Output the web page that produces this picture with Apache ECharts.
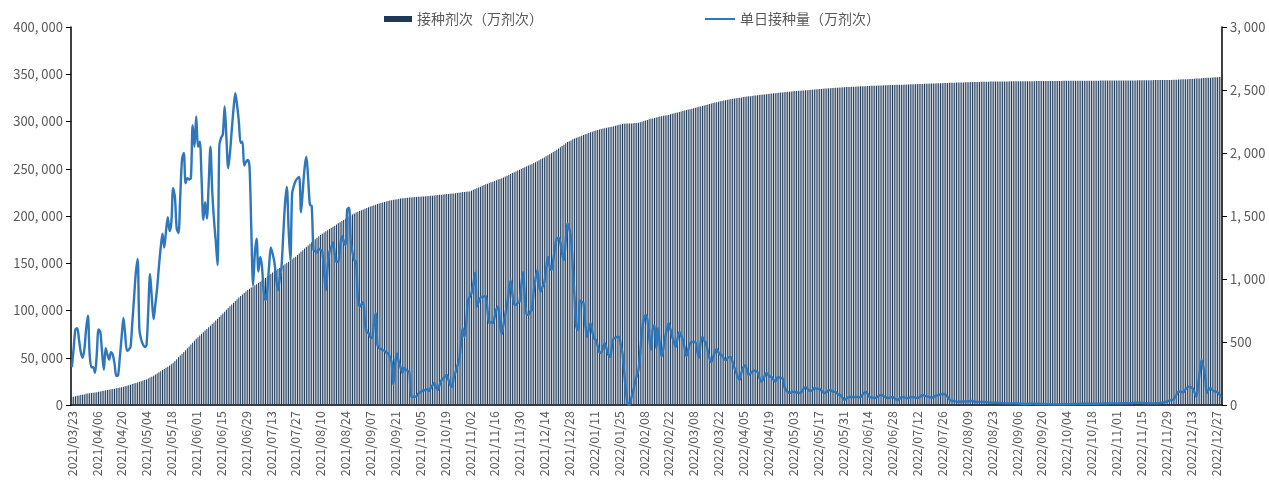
<!DOCTYPE html>
<html>
<head>
<meta charset="utf-8">
<script src="https://cdn.jsdelivr.net/npm/echarts@6/dist/echarts.min.js"></script>
<style>html,body{margin:0;padding:0;background:#fff}#c{width:1269px;height:485px}</style>
</head>
<body>
<div id="c"></div>
<script>
// Categories: daily dates from 2021/03/23 (648 days)
const startDate = [2021, 3, 23];
const dayCount = 648;
const categories = [];
(function(){
  const d = new Date(startDate[0], startDate[1]-1, startDate[2]);
  for (let i = 0; i < dayCount; i++) {
    const m = String(d.getMonth()+1).padStart(2,'0');
    const dd = String(d.getDate()).padStart(2,'0');
    categories.push(d.getFullYear() + '/' + m + '/' + dd);
    d.setDate(d.getDate()+1);
  }
})();

const seriesNames = ['接种剂次（万剂次）', '单日接种量（万剂次）'];

// Cumulative doses (万剂次), left axis
const cumulative = [
8300,8700,9200,9700,10100,10500,10800,11200,11800,12100,12400,12700,12900,13200,
13500,13900,14300,14700,15100,15500,15800,16200,16600,17000,17300,17700,18100,18400,
18800,19300,19800,20400,21000,21500,22100,22700,23300,23900,24500,25200,25800,26400,
27000,28000,29000,30000,31000,32200,33400,34600,35800,37000,38200,39400,40600,41800,
43000,44800,46600,48500,50400,52300,54200,56100,58000,60000,62000,64000,66000,68000,
70000,71800,73600,75400,77100,78800,80500,82200,83900,85600,87400,89300,91200,93100,
95000,96900,98800,100700,102600,104500,106400,108300,110100,111900,113700,115400,117000,118500,
120000,121600,123000,124300,125500,126700,127900,129100,130400,131700,133000,134400,135900,137400,
139000,140300,141500,142700,143900,145100,146400,147700,149000,150300,151600,152900,154300,155700,
157000,158700,160400,162100,163800,165500,167200,168900,170600,172200,173800,175400,177000,178500,
180000,181300,182600,183800,185000,186200,187400,188600,189800,191000,192200,193400,194600,195800,
197000,198200,199400,200500,201600,202600,203600,204500,205400,206200,207000,207800,208500,209200,
210000,210700,211400,212000,212600,213200,213800,214300,214800,215300,215800,216300,216700,217100,
217500,217800,218100,218400,218700,218900,219100,219300,219500,219700,219900,220000,220100,220300,
220500,220600,220700,220800,220900,221100,221300,221500,221700,221900,222100,222400,222600,222800,
223000,223200,223400,223600,223700,223800,224000,224300,224600,225000,225400,225500,225700,225900,
226000,226800,227800,228600,229400,230200,231000,231900,232700,233500,234200,234900,235600,236300,
237000,237800,238500,239200,240000,240800,241700,242700,243600,244500,245400,246300,247200,248100,
249000,249800,250700,251700,252700,253500,254300,255100,256000,257000,258000,259000,260000,261000,
262000,263100,264200,265400,266500,267700,268900,270200,271500,272800,274100,275500,276900,278200,
279000,280000,281100,282000,282700,283400,284200,285000,285800,286500,287100,287800,288500,289200,
290000,290500,291000,291500,292000,292500,292900,293300,293700,294100,294500,295000,295500,296000,
296500,296900,297300,297600,297800,297900,297900,298000,298100,298300,298500,298800,299200,299800,
300500,301100,301700,302300,302800,303300,303800,304300,304800,305200,305600,306000,306400,306700,
307000,307600,308200,308700,309200,309600,310100,310600,311100,311600,312100,312600,313000,313500,
314000,314500,315000,315500,316000,316500,317000,317500,318000,318500,319000,319500,320000,320500,
321000,321400,321800,322200,322600,322900,323300,323700,324000,324300,324600,324900,325200,325500,
325800,326100,326400,326600,326800,327100,327400,327600,327800,328000,328200,328500,328700,328900,
329200,329400,329600,329800,330000,330200,330400,330600,330800,331000,331200,331400,331600,331800,
332000,332200,332300,332500,332600,332800,332900,333100,333200,333400,333500,333700,333800,334000,
334200,334300,334500,334600,334800,334900,335100,335200,335400,335500,335700,335800,336000,336100,
336200,336300,336400,336500,336600,336700,336800,336900,337000,337100,337200,337300,337400,337400,
337500,337600,337700,337800,337900,337900,338000,338100,338200,338300,338300,338400,338500,338500,
338600,338700,338800,338800,338900,339000,339000,339100,339200,339200,339300,339400,339400,339500,
339600,339700,339800,339800,339900,340000,340000,340100,340200,340200,340300,340400,340400,340500,
340600,340700,340800,340800,340900,341000,341000,341100,341200,341200,341300,341400,341400,341500,
341600,341600,341700,341700,341800,341800,341900,341900,342000,342000,342000,342100,342100,342200,
342200,342200,342300,342300,342300,342300,342400,342400,342400,342400,342500,342500,342500,342500,
342600,342600,342600,342600,342600,342700,342700,342700,342700,342700,342700,342800,342800,342800,
342800,342800,342800,342800,342800,342900,342900,342900,342900,342900,342900,342900,343000,343000,
343000,343000,343000,343000,343000,343100,343100,343100,343100,343100,343100,343100,343200,343200,
343200,343200,343200,343200,343200,343300,343300,343300,343300,343300,343300,343300,343400,343400,
343400,343400,343400,343400,343400,343500,343500,343500,343500,343500,343500,343500,343600,343600,
343600,343600,343600,343700,343700,343700,343700,343800,343800,343800,343800,343800,343900,343900,
343900,343900,344000,344000,344100,344200,344300,344400,344500,344600,344700,344800,344800,344900,
345000,345100,345300,345400,345500,345600,345800,345900,346000,346200,346300,346400,346500,346700,
346800,346900,347100,347200
];

// Daily doses (万剂次), right axis
const daily = [
300,450,600,610,520,420,375,440,600,710,
400,300,300,255,400,600,580,420,280,450,
400,360,420,400,330,230,235,380,540,690,
560,430,440,460,650,850,1050,1160,600,520,
480,460,475,750,1040,850,680,800,930,1100,
1250,1360,1250,1380,1490,1380,1450,1720,1650,1400,
1365,1650,1950,2000,1760,1800,1790,1800,2220,2050,
2290,2050,2090,1800,1470,1610,1480,1750,2050,1700,
1470,1300,1110,2060,2120,2150,2370,2120,1880,2000,
2180,2350,2475,2380,2250,2080,2090,1900,1930,1945,
1890,1400,950,1200,1320,1060,1175,1100,900,830,
910,1100,1250,1200,1135,1000,910,1000,1095,1350,
1600,1730,1400,1150,1680,1740,1780,1800,1810,1530,
1700,1880,1970,1800,1590,1580,1230,1220,1210,1240,
1230,1215,1050,910,1100,1215,1250,1290,1200,1135,
1140,1250,1340,1300,1270,1550,1565,1300,1210,1150,
1135,850,780,800,815,650,580,570,540,530,
640,730,480,450,445,435,430,415,410,380,
340,160,330,410,345,300,255,295,280,270,
260,65,65,65,70,90,100,110,115,120,
125,110,135,155,175,140,120,160,195,210,
225,240,200,160,145,220,260,310,355,480,
610,540,650,830,860,890,960,1050,780,820,
850,860,860,865,750,650,660,650,700,760,
780,650,560,640,720,795,900,990,880,800,
795,810,820,950,1055,850,720,715,740,755,
900,1000,1070,950,900,940,975,1080,1175,1100,
1070,1150,1250,1320,1325,1290,1200,1150,1300,1440,
1400,1330,1100,850,620,595,830,820,810,650,
540,600,650,580,530,515,470,420,415,460,
490,450,400,380,460,530,535,540,540,480,
410,250,100,10,0,60,110,180,230,280,
420,595,680,715,680,540,440,600,635,450,
610,480,385,450,540,600,650,600,540,500,
460,530,580,550,515,450,385,440,490,500,
500,500,430,375,500,540,510,490,430,370,
340,380,420,445,420,400,395,370,355,370,
380,380,340,295,260,220,200,260,300,315,
280,240,250,265,275,270,262,220,185,200,
230,255,240,225,222,200,185,215,220,215,
214,150,120,105,95,100,105,103,100,97,
95,110,130,143,130,115,111,120,135,130,
128,127,115,100,95,105,115,119,110,105,
103,90,80,75,55,40,50,60,63,65,
62,63,64,62,63,80,95,103,90,65,
60,58,56,60,70,78,79,70,62,56,
56,60,63,55,45,40,50,60,63,58,
56,56,60,63,62,58,56,60,70,79,
72,70,66,62,58,62,70,76,79,84,
87,87,80,65,45,34,32,30,28,26,
26,27,28,27,28,30,32,32,28,25,
24,25,25,25,24,22,20,19,18,18,
18,17,16,15,14,13,13,13,12,13,
13,13,12,11,10,9,8,8,9,10,
10,11,11,10,9,8,8,8,8,7,
6,6,5,5,5,5,5,6,6,6,
7,7,7,7,8,8,9,9,10,10,
10,10,10,10,10,10,10,10,10,11,
11,12,12,12,13,13,13,13,13,13,
13,14,14,14,14,15,15,16,17,17,
18,18,17,16,15,14,13,13,13,13,
13,14,15,17,19,22,26,30,34,38,
42,60,85,105,108,100,105,125,140,146,
140,132,100,66,150,265,357,300,225,95,
120,135,120,110,106,100,85,60
];

const FONT = '"Noto Sans CJK SC", "Noto Sans", sans-serif';
const GRAY = '#595959';
const BAR_COLOR = '#1d3858';
const LINE_COLOR = '#2e77bb';
function fmt(v){
  const s = String(Math.round(v));
  return s.replace(/\B(?=(\d{3})+(?!\d))/g, ', ');
}

const chart = echarts.init(document.getElementById('c'), null, {renderer:'canvas'});
chart.setOption({
  animation: false,
  textStyle: {fontFamily: FONT},
  legend: [
    {top: 12, left: 384, padding: 0, itemWidth: 28, itemHeight: 6, icon: 'rect',
     textStyle: {color: GRAY, fontSize: 14, fontFamily: FONT},
     data: [seriesNames[0]]},
    {top: 12, left: 705, padding: 0, itemWidth: 30, itemHeight: 2, icon: 'rect',
     textStyle: {color: GRAY, fontSize: 14, fontFamily: FONT},
     data: [seriesNames[1]]}
  ],
  grid: {left: 71, right: 47, top: 27, bottom: 80, containLabel: false},
  xAxis: {
    type: 'category', data: categories, boundaryGap: true,
    axisLine: {lineStyle: {color: '#000', width: 1.5}},
    axisTick: {interval: 13, length: 5, lineStyle: {color: '#000'}},
    axisLabel: {interval: 13, rotate: 90, color: GRAY, fontSize: 12.5, fontFamily: FONT, margin: 6}
  },
  yAxis: [
    {type: 'value', min: 0, max: 400000, interval: 50000,
     axisLine: {show: true, lineStyle: {color: '#000', width: 1.5}},
     axisTick: {show: true, length: 5, lineStyle: {color: '#000'}},
     splitLine: {show: false},
     axisLabel: {color: GRAY, fontSize: 13, fontFamily: FONT, formatter: fmt, margin: 8}},
    {type: 'value', min: 0, max: 3000, interval: 500,
     axisLine: {show: true, lineStyle: {color: '#000', width: 1.5}},
     axisTick: {show: true, length: 5, lineStyle: {color: '#000'}},
     splitLine: {show: false},
     axisLabel: {color: GRAY, fontSize: 13, fontFamily: FONT, formatter: fmt, margin: 8}}
  ],
  series: [
    {name: seriesNames[0], type: 'bar', yAxisIndex: 0, data: cumulative,
     barCategoryGap: '55%', itemStyle: {color: BAR_COLOR}},
    {name: seriesNames[1], type: 'line', yAxisIndex: 1, data: daily,
     symbol: 'none', smooth: 0.3, lineStyle: {color: LINE_COLOR, width: 2.4},
     itemStyle: {color: LINE_COLOR}}
  ]
});
</script>
</body>
</html>
